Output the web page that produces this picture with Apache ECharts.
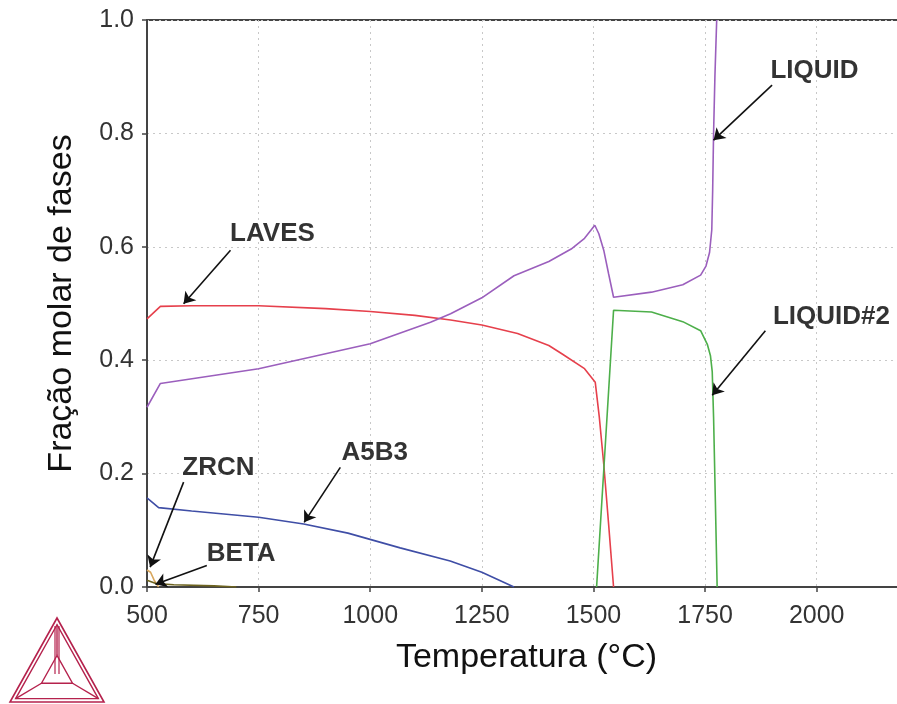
<!DOCTYPE html>
<html>
<head>
<meta charset="utf-8">
<script src="https://cdn.jsdelivr.net/npm/echarts@6/dist/echarts.min.js"></script>
<style>
html,body{margin:0;padding:0;background:#fff;}
#chart{width:897px;height:704px;}
</style>
</head>
<body>
<div id="chart"></div>
<script>
// ---- data (temperature °C, mole fraction) ----
const xTicks = [500, 750, 1000, 1250, 1500, 1750, 2000];
const yTicks = [0.0, 0.2, 0.4, 0.6, 0.8, 1.0];

const laves = [[500,0.473],[530,0.495],[600,0.496],[750,0.496],[900,0.491],[1000,0.486],[1100,0.479],[1180,0.471],[1250,0.462],[1330,0.447],[1400,0.426],[1430,0.411],[1480,0.385],[1504,0.361],[1513,0.30],[1523,0.217],[1534,0.11],[1545,0.0]];
const liquid = [[500,0.317],[530,0.359],[750,0.385],[1000,0.429],[1135,0.467],[1180,0.482],[1250,0.510],[1322,0.549],[1400,0.574],[1450,0.596],[1480,0.615],[1503,0.638],[1512,0.623],[1523,0.594],[1534,0.552],[1545,0.511],[1630,0.520],[1700,0.533],[1740,0.550],[1752,0.566],[1760,0.59],[1765,0.63],[1767,0.70],[1769,0.80],[1772,0.90],[1776,1.0]];
const liquid2 = [[1507,0.0],[1545,0.488],[1630,0.485],[1700,0.468],[1740,0.452],[1755,0.428],[1762,0.408],[1766,0.38],[1769,0.30],[1773,0.152],[1777,0.0]];
const a5b3 = [[500,0.157],[526,0.140],[600,0.134],[750,0.123],[851,0.111],[950,0.095],[1067,0.069],[1179,0.046],[1250,0.026],[1322,0.0]];
const zrcn = [[500,0.030],[508,0.026],[516,0.012],[526,0.0]];
const beta = [[500,0.012],[520,0.006],[560,0.004],[650,0.002],[700,0.0]];

// annotation labels and their anchor points (data space)
const labelNames = ['LAVES','LIQUID','LIQUID#2','A5B3','ZRCN','BETA'];
const labelAnchors = [[781,0.622],[1995,0.910],[2033,0.477],[1010,0.237],[660,0.211],[711,0.059]];
// arrows: from -> to (data space)
const arrowFrom = [[687,0.594],[1900,0.885],[1885,0.452],[933,0.211],[582,0.185],[634,0.038]];
const arrowTo   = [[582,0.4995],[1769,0.788],[1766,0.338],[852,0.114],[507,0.035],[519,0.005]];

const chart = echarts.init(document.getElementById('chart'), null, {renderer:'canvas'});

function lineSeries(name, data, color) {
  return {
    name: name, type: 'line', data: data, showSymbol: false, symbol: 'none',
    lineStyle: {color: color, width: 1.6}, itemStyle: {color: color},
    animation: false, silent: true, z: 3
  };
}

const logoColor = '#b5224d';
const A = [57,618], B = [10,702], C = [104,702];
const G = [(A[0]+B[0]+C[0])/3, (A[1]+B[1]+C[1])/3];
function lerp(p, q, t){ return [p[0]+(q[0]-p[0])*t, p[1]+(q[1]-p[1])*t]; }
const s1 = 0.88, s2 = 0.33;
const A1 = lerp(G,A,s1), B1 = lerp(G,B,s1), C1 = lerp(G,C,s1);
const A2 = lerp(G,A,s2), B2 = lerp(G,B,s2), C2 = lerp(G,C,s2);

const option = {
  backgroundColor: '#fff',
  animation: false,
  grid: {left: 147, top: 20, width: 759, height: 567, show: true, borderColor: '#444', borderWidth: 2,
         containLabel: false, outerBoundsMode: 'none'},
  xAxis: {
    type: 'value', min: 500, max: 2200, interval: 250,
    name: 'Temperatura (°C)', nameLocation: 'middle', nameGap: 54,
    nameTextStyle: {fontFamily: 'Liberation Sans', fontSize: 34, color: '#111'},
    axisLine: {show: true, onZero: false, lineStyle: {color: '#444', width: 2}},
    axisTick: {show: true, inside: false, length: 5, lineStyle: {color: '#444', width: 1.5}},
    axisLabel: {fontFamily: 'Liberation Sans', fontSize: 25, color: '#333', margin: 17,
      showMaxLabel: false,
      formatter: v => xTicks.includes(v) ? String(v) : ''},
    splitLine: {show: true, lineStyle: {color: '#c8c8c8', width: 1, type: [2,4]}}
  },
  yAxis: {
    type: 'value', min: 0, max: 1, interval: 0.2,
    name: 'Fração molar de fases', nameLocation: 'middle', nameGap: 68, nameRotate: 90,
    nameTextStyle: {fontFamily: 'Liberation Sans', fontSize: 34, color: '#111'},
    axisLine: {show: true, onZero: false, lineStyle: {color: '#444', width: 2}},
    axisTick: {show: true, inside: false, length: 5, lineStyle: {color: '#444', width: 1.5}},
    axisLabel: {fontFamily: 'Liberation Sans', fontSize: 25, color: '#333', margin: 13,
      formatter: v => yTicks.some(t => Math.abs(t - v) < 1e-9) ? v.toFixed(1) : ''},
    splitLine: {show: true, lineStyle: {color: '#c8c8c8', width: 1, type: [2,4]}}
  },
  series: [
    lineSeries('A5B3', a5b3, '#3f4ea6'),
    lineSeries('LAVES', laves, '#e6404c'),
    lineSeries('LIQUID', liquid, '#9b5fbd'),
    lineSeries('LIQUID#2', liquid2, '#4daf4a'),
    lineSeries('ZRCN', zrcn, '#d9a75e'),
    lineSeries('BETA', beta, '#6e6420'),
    {
      name: 'labels', type: 'scatter', symbolSize: 0, silent: true, animation: false, z: 5,
      data: labelNames.map((n, i) => ({name: n, value: labelAnchors[i]})),
      label: {show: true, position: 'inside', formatter: p => p.name,
        fontFamily: 'Liberation Sans', fontWeight: 'bold', fontSize: 26, color: '#000',
        textBorderWidth: 0}
    },
    {
      name: 'arrows', type: 'line', data: [], silent: true, animation: false, z: 5,
      markLine: {
        silent: true, animation: false, symbol: ['none', 'arrow'], symbolSize: 11,
        label: {show: false},
        lineStyle: {color: '#111', width: 1.6, type: 'solid'},
        data: arrowFrom.map((f, i) => [{coord: f}, {coord: arrowTo[i]}])
      }
    }
  ],
  graphic: [
    {type: 'polygon', shape: {points: [A,B,C]}, style: {fill: 'none', stroke: logoColor, lineWidth: 1.6}, silent: true},
    {type: 'polygon', shape: {points: [A1,B1,C1]}, style: {fill: 'none', stroke: logoColor, lineWidth: 1.4}, silent: true},
    {type: 'polygon', shape: {points: [A2,B2,C2]}, style: {fill: 'none', stroke: logoColor, lineWidth: 1.4}, silent: true},
    {type: 'polyline', shape: {points: [A1,A2]}, style: {stroke: logoColor, lineWidth: 1.4}, silent: true},
    {type: 'polyline', shape: {points: [B1,B2]}, style: {stroke: logoColor, lineWidth: 1.4}, silent: true},
    {type: 'polyline', shape: {points: [C1,C2]}, style: {stroke: logoColor, lineWidth: 1.4}, silent: true},
    {type: 'polyline', shape: {points: [[A[0]-2,A[1]+8],[G[0]-2,G[1]]]}, style: {stroke: logoColor, lineWidth: 1.2}, silent: true},
    {type: 'polyline', shape: {points: [[A[0]+2,A[1]+8],[G[0]+2,G[1]]]}, style: {stroke: logoColor, lineWidth: 1.2}, silent: true}
  ]
};
chart.setOption(option);
</script>
</body>
</html>
